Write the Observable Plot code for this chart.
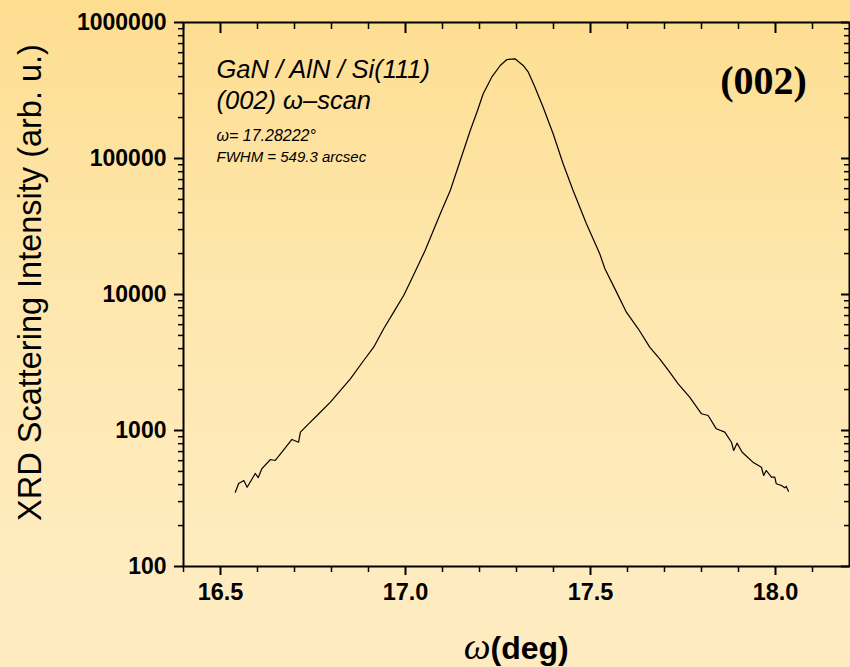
<!DOCTYPE html>
<html>
<head>
<meta charset="utf-8">
<script src="https://cdn.jsdelivr.net/npm/d3@7"></script>
<script src="https://cdn.jsdelivr.net/npm/@observablehq/plot@0.6"></script>
<style>
  html, body { margin: 0; padding: 0; }
  body {
    width: 850px; height: 667px; overflow: hidden;
    background: linear-gradient(to bottom, #fddd90 0%, #fee7ae 45%, #feecc0 85%, #feecc0 100%);
  }
  #chart svg { display: block; }
</style>
</head>
<body>
<div id="chart"></div>
<script>
// ---- data ----
const omega = [16.540, 16.549, 16.563, 16.572, 16.594, 16.602, 16.612, 16.635, 16.648, 16.666,
  16.693, 16.711, 16.716, 16.738, 16.761, 16.797, 16.851, 16.887, 16.914, 16.941,
  16.968, 16.995, 17.017, 17.053, 17.094, 17.121, 17.148, 17.175, 17.193, 17.210,
  17.233, 17.256, 17.274, 17.296, 17.318, 17.332, 17.350, 17.372, 17.399, 17.426,
  17.453, 17.489, 17.525, 17.539, 17.566, 17.597, 17.629, 17.660, 17.687, 17.714,
  17.737, 17.768, 17.800, 17.818, 17.840, 17.863, 17.881, 17.887, 17.896, 17.910,
  17.939, 17.962, 17.968, 17.975, 17.989, 17.998, 18.002, 18.016, 18.025, 18.029, 18.035];
const intensity = [352, 408, 429, 383, 483, 451, 525, 612, 602, 692,
  859, 820, 972, 1120, 1289, 1615, 2399, 3272, 4098, 5595,
  7413, 9840, 13040, 21060, 39200, 58200, 96700, 160700, 218900, 299000,
  396000, 483000, 534000, 541000, 483000, 431000, 334000, 238000, 152000, 91400,
  58200, 33100, 19900, 15450, 11000, 7413, 5595, 4098, 3367, 2683,
  2205, 1757, 1327, 1289, 1029, 972, 820, 713, 807, 692,
  585, 537, 467, 508, 454, 454, 406, 394, 379, 388, 358];

const xMajor = [16.5, 17.0, 17.5, 18.0];
const xMinor = [16.4, 16.6, 16.7, 16.8, 16.9, 17.1, 17.2, 17.3, 17.4, 17.6, 17.7, 17.8, 17.9, 18.1];
const yMajor = [100, 1000, 10000, 100000, 1000000];
const yMinor = [200, 300, 400, 500, 600, 700, 800, 900,
  2000, 3000, 4000, 5000, 6000, 7000, 8000, 9000,
  20000, 30000, 40000, 50000, 60000, 70000, 80000, 90000,
  200000, 300000, 400000, 500000, 600000, 700000, 800000, 900000];
const xLabels = ["16.5", "17.0", "17.5", "18.0"];
const yLabels = ["100", "1000", "10000", "100000", "1000000"];

const sampleLine = ["GaN / AlN / Si(111)"];
const scanLine = ["(002) ω–scan"];
const peakLine = ["ω= 17.28222°"];
const fwhmLine = ["FWHM = 549.3 arcsec"];
const reflLabel = ["(002)"];
const yTitle = ["XRD Scattering Intensity (arb. u.)"];

const data = omega.map((w, i) => ({omega: w, intensity: intensity[i]}));

const sans = "'Liberation Sans', Arial, Helvetica, sans-serif";
const serif = "'Liberation Serif', 'Times New Roman', serif";

const chart = Plot.plot({
  width: 850,
  height: 667,
  marginLeft: 183,
  marginRight: 1,
  marginTop: 22,
  marginBottom: 101,
  style: {background: "transparent", fontFamily: sans, color: "#000", overflow: "visible"},
  x: {domain: [16.4, 18.2]},
  y: {type: "log", domain: [100, 1000000]},
  marks: [
    // y axes
    Plot.axisY(yMajor, {tickSize: 9, tickPadding: 8, strokeWidth: 2,
      tickFormat: d => yLabels[yMajor.indexOf(d)], fontSize: 23, fontWeight: "bold", label: null}),
    Plot.axisY(yMinor, {tickSize: 5, strokeWidth: 1.5, tickFormat: () => "", label: null}),
    Plot.tickY(yMajor, {y: d => d, insetLeft: 658, strokeWidth: 2}),
    Plot.tickY(yMinor, {y: d => d, insetLeft: 661, strokeWidth: 1.5}),
    // x axes
    Plot.axisX(xMajor, {tickSize: 9, tickPadding: 8, strokeWidth: 2,
      tickFormat: d => xLabels[xMajor.indexOf(d)], fontSize: 23.5, fontWeight: "bold", label: null}),
    Plot.axisX(xMinor, {tickSize: 6, strokeWidth: 1.5, tickFormat: () => "", label: null}),
    Plot.tickX(xMajor, {x: d => d, insetBottom: 533, strokeWidth: 2}),
    Plot.tickX(xMinor, {x: d => d, insetBottom: 537, strokeWidth: 1.5}),
    Plot.frame({strokeWidth: 2}),
    // curve
    Plot.line(data, {x: "omega", y: "intensity", stroke: "#000", strokeWidth: 1.2}),
    // annotations
    Plot.text(sampleLine, {text: d => d, frameAnchor: "top-left", dx: 33, dy: 55,
      textAnchor: "start", lineAnchor: "bottom", fontSize: 25.5, fontStyle: "italic"}),
    Plot.text(scanLine, {text: d => d, frameAnchor: "top-left", dx: 33, dy: 86,
      textAnchor: "start", lineAnchor: "bottom", fontSize: 25.5, fontStyle: "italic"}),
    Plot.text(peakLine, {text: d => d, frameAnchor: "top-left", dx: 33, dy: 118,
      textAnchor: "start", lineAnchor: "bottom", fontSize: 16, fontStyle: "italic"}),
    Plot.text(fwhmLine, {text: d => d, frameAnchor: "top-left", dx: 33, dy: 139,
      textAnchor: "start", lineAnchor: "bottom", fontSize: 15, fontStyle: "italic"}),
    Plot.text(reflLabel, {text: d => d, frameAnchor: "top-right", dx: -86, dy: 71,
      textAnchor: "middle", lineAnchor: "bottom", fontSize: 40, fontWeight: "bold", fontFamily: serif}),
    // axis titles
    Plot.text(["ω"], {text: d => d, frameAnchor: "bottom", dx: -26, dy: 92,
      textAnchor: "end", lineAnchor: "bottom", fontSize: 38, fontStyle: "italic", fontFamily: serif}),
    Plot.text(["(deg)"], {text: d => d, frameAnchor: "bottom", dx: -26, dy: 92,
      textAnchor: "start", lineAnchor: "bottom", fontSize: 32, fontWeight: "bold"}),
    Plot.text(yTitle, {text: d => d, frameAnchor: "left", rotate: -90, dx: -153, dy: -12,
      textAnchor: "middle", lineAnchor: "middle", fontSize: 32.5})
  ]
});

document.getElementById("chart").appendChild(chart);
</script>
</body>
</html>
